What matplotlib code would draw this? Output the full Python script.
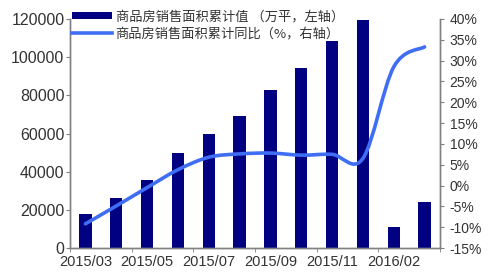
import matplotlib
matplotlib.use('Agg')
import matplotlib.pyplot as plt
from matplotlib.path import Path
from matplotlib.patches import PathPatch, Patch
from matplotlib.lines import Line2D
from matplotlib.font_manager import FontProperties
import numpy as np

# ---- data ----
months = ['2015/03', '2015/04', '2015/05', '2015/06', '2015/07', '2015/08',
          '2015/09', '2015/10', '2015/11', '2015/12', '2016/02', '2016/03']
area = [17800, 26200, 35600, 49600, 59700, 69200, 82800, 94300, 108600, 119500, 11200, 24300]
yoy = [-9.2, -4.9, -0.5, 3.8, 6.8, 7.6, 7.8, 7.3, 7.5, 6.5, 28.5, 33.3]
tick_labels = ['2015/03', '2015/05', '2015/07', '2015/09', '2015/11', '2016/02']
legend_labels = ['商品房销售面积累计值 （万平，左轴）', '商品房销售面积累计同比（%，右轴）']

bar_color = '#000080'
line_color = '#3F6EF5'
spine_color = '#808080'
text_color = '#333333'

fig = plt.figure(figsize=(4.94, 2.79), dpi=100)
ax = fig.add_axes([70/494, 31/279, 370/494, 229/279])
ax2 = ax.twinx()

x = np.arange(len(months))
ax.bar(x, area, width=0.4, color=bar_color, zorder=2)
ax.set_xlim(-0.5, len(months) - 0.5)
ax.set_ylim(0, 120000)
ax.set_yticks(np.arange(0, 120001, 20000))
ax.set_yticklabels([str(v) for v in range(0, 120001, 20000)], fontsize=11.5,
                   family='Liberation Sans', color=text_color)

ax.set_xticks(x[::2])
ax.set_xticklabels(tick_labels, fontsize=10.5, family='Liberation Sans', color=text_color)
ax.set_xticks(np.arange(-0.5, len(months), 2), minor=True)
ax.tick_params(axis='x', which='major', length=0, pad=5)
ax.tick_params(axis='x', which='minor', length=3, color=spine_color, direction='out')
ax.tick_params(axis='y', length=3, color=spine_color, pad=1)

ax2.set_ylim(-15, 40)
ax2.set_yticks(np.arange(-15, 41, 5))
ax2.set_yticklabels([f'{v}%' for v in range(-15, 41, 5)], fontsize=10,
                    family='Liberation Sans', color=text_color)
ax2.tick_params(axis='y', length=3, color=spine_color, pad=4)

for a in (ax, ax2):
    a.spines['top'].set_visible(False)
    for s in ('left', 'right', 'bottom'):
        a.spines[s].set_color(spine_color)
        a.spines[s].set_linewidth(1.0)

# smoothed line (Catmull-Rom style Bezier through the data points)
y = np.array(yoy, dtype=float)
n = len(y)
verts = [(x[0], y[0])]
codes = [Path.MOVETO]
for i in range(n - 1):
    p0 = np.array([x[max(i - 1, 0)], y[max(i - 1, 0)]])
    p1 = np.array([x[i], y[i]])
    p2 = np.array([x[i + 1], y[i + 1]])
    p3 = np.array([x[min(i + 2, n - 1)], y[min(i + 2, n - 1)]])
    c1 = p1 + (p2 - p0) / 6.0
    c2 = p2 - (p3 - p1) / 6.0
    verts += [tuple(c1), tuple(c2), tuple(p2)]
    codes += [Path.CURVE4, Path.CURVE4, Path.CURVE4]
patch = PathPatch(Path(verts, codes), facecolor='none', edgecolor=line_color,
                  lw=2.6, capstyle='round', joinstyle='round', zorder=3)
ax2.add_patch(patch)

handles = [Patch(facecolor=bar_color, edgecolor='none'),
           Line2D([], [], color=line_color, lw=2.6)]
fig.legend(handles, legend_labels, loc='upper left',
           bbox_to_anchor=(72/494, 1 - 10/279), frameon=False,
           prop=FontProperties(family=['Noto Sans CJK SC', 'DejaVu Sans'], size=9.5),
           handlelength=3.0, handleheight=0.45, handletextpad=0.3,
           borderpad=0, borderaxespad=0, labelspacing=0.35, labelcolor=text_color)

fig.savefig('out.png', dpi=100)
